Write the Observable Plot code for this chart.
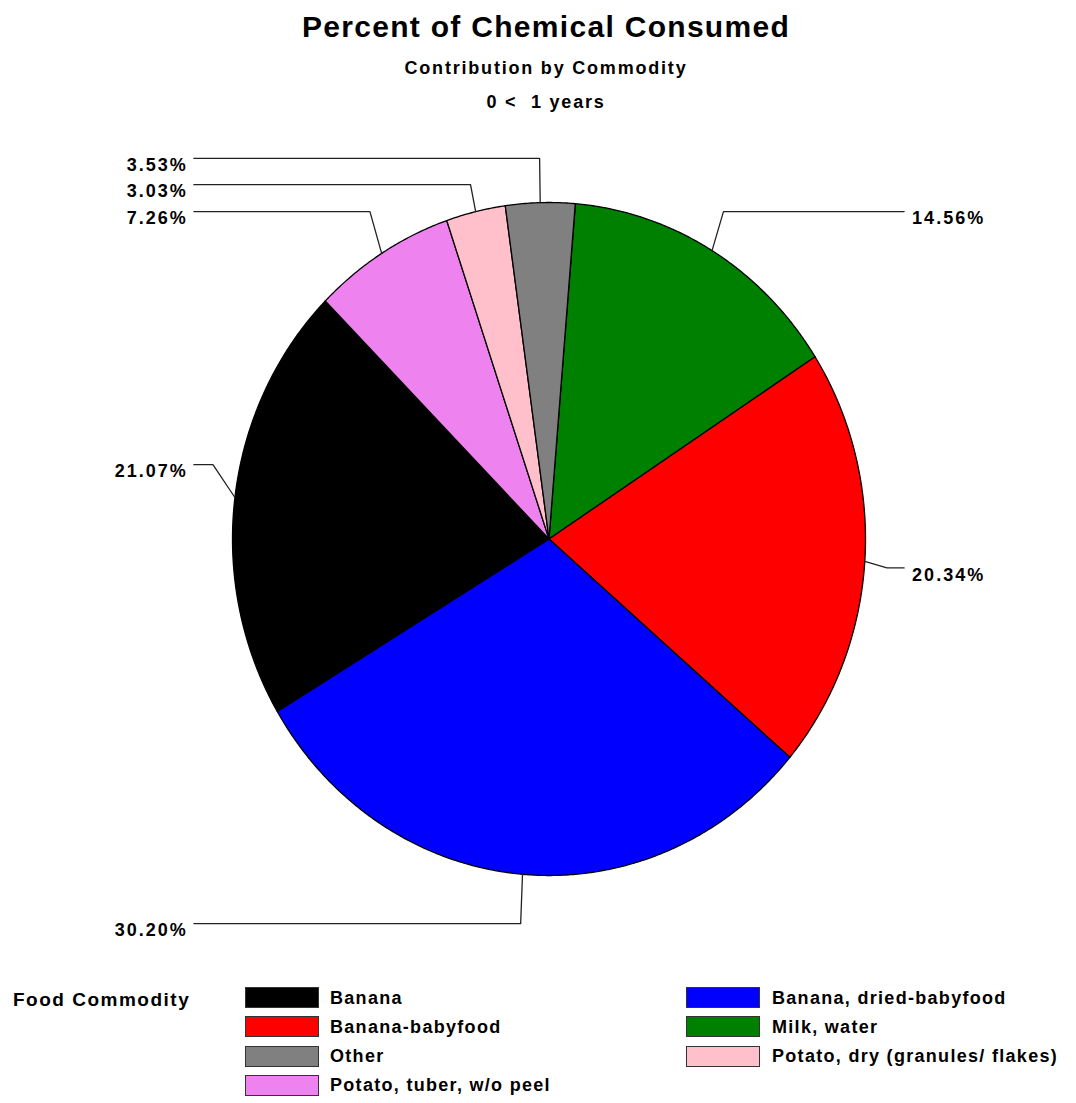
<!DOCTYPE html>
<html>
<head>
<meta charset="utf-8">
<script src="https://cdn.jsdelivr.net/npm/d3@7"></script>
<script src="https://cdn.jsdelivr.net/npm/@observablehq/plot@0.6"></script>
<style>
  body { margin: 0; background: #fff; }
  #page { position: relative; width: 1076px; height: 1103px; overflow: hidden;
          font-family: "Liberation Sans", Arial, sans-serif; font-weight: bold; color: #000; }
  .t { position: absolute; left: 0; width: 1092px; text-align: center; white-space: pre; }
  .lg { position: absolute; white-space: pre; font-size: 18px; letter-spacing: 1.3px; line-height: 22px; }
  .sw { position: absolute; box-sizing: border-box; border: 1px solid #333; }
  #chart { position: absolute; left: 0; top: 130px; }
</style>
</head>
<body>
<div id="page">
  <div class="t" style="top:10px;font-size:30px;letter-spacing:1.3px;line-height:34px">Percent of Chemical Consumed</div>
  <div class="t" style="top:57px;font-size:18px;letter-spacing:1.8px;line-height:22px">Contribution by Commodity</div>
  <div class="t" style="top:91px;font-size:18px;letter-spacing:1.8px;line-height:22px">0 &lt;  1 years</div>
  <div id="chart"></div>
  <div class="lg" style="left:13px;top:989px;letter-spacing:1.5px;font-size:19px">Food Commodity</div>
</div>
<script>
// ---- data ----
const commodities = ["Milk, water", "Banana-babyfood", "Banana, dried-babyfood", "Banana",
                     "Potato, tuber, w/o peel", "Potato, dry (granules/ flakes)", "Other"];
const percents = [14.56, 20.34, 30.20, 21.07, 7.26, 3.03, 3.53];
const colors = ["#008000", "#ff0000", "#0000ff", "#000000", "#ee82ee", "#ffc0cb", "#808080"];
const legendLeft = ["Banana", "Banana-babyfood", "Other", "Potato, tuber, w/o peel"];
const legendRight = ["Banana, dried-babyfood", "Milk, water", "Potato, dry (granules/ flakes)"];

// ---- layout ----
const startAngle = 4.8; // degrees clockwise from 12 o'clock
const labelLayout = {
  "Milk, water": {side: 1, y: 0.973},
  "Banana-babyfood": {side: 1, y: -0.086},
  "Banana, dried-babyfood": {side: -1, y: -1.143},
  "Banana": {side: -1, y: 0.221},
  "Potato, tuber, w/o peel": {side: -1, y: 0.973},
  "Potato, dry (granules/ flakes)": {side: -1, y: 1.053},
  "Other": {side: -1, y: 1.131}
};
const rad = d => d * Math.PI / 180;

let acc = startAngle;
const slices = commodities.map((name, i) => {
  const a0 = acc, a1 = acc + percents[i] * 3.6;
  acc = a1;
  return {name, value: percents[i], a0, a1, mid: (a0 + a1) / 2};
});

const slicePts = [];
for (const s of slices) {
  slicePts.push({name: s.name, x: 0, y: 0});
  const n = Math.max(2, Math.ceil((s.a1 - s.a0) / 0.4));
  for (let k = 0; k <= n; k++) {
    const a = rad(s.a0 + (s.a1 - s.a0) * k / n);
    slicePts.push({name: s.name, x: Math.sin(a), y: Math.cos(a)});
  }
  slicePts.push({name: s.name, x: 0, y: 0});
}

const leaderPts = [];
const labels = [];
for (const s of slices) {
  const L = labelLayout[s.name];
  const m = rad(s.mid);
  leaderPts.push({name: s.name, x: Math.sin(m), y: Math.cos(m)});
  leaderPts.push({name: s.name, x: 1.07 * Math.sin(m), y: L.y});
  leaderPts.push({name: s.name, x: L.side * 1.122, y: L.y});
  labels.push({name: s.name, x: L.side * 1.122, y: L.y, side: L.side, text: s.value.toFixed(2) + "%"});
}

const font = {fontFamily: "'Liberation Sans', Arial, sans-serif", fontWeight: "bold", fontSize: 18};

const plot = Plot.plot({
  width: 1076,
  height: 830,
  margin: 0,
  style: {background: "#fff", letterSpacing: "2px", overflow: "visible"},
  x: {domain: [-1, 1], range: [232, 865], axis: null},
  y: {domain: [-1, 1], range: [745, 72], axis: null},
  color: {domain: commodities, range: colors},
  marks: [
    Plot.line(slicePts, {x: "x", y: "y", z: "name", fill: "name", stroke: "#000", strokeWidth: 1.3, curve: "linear"}),
    Plot.line(leaderPts, {x: "x", y: "y", z: "name", stroke: "#222", strokeWidth: 1.3}),
    Plot.text(labels.filter(d => d.side < 0), {x: "x", y: "y", text: "text", textAnchor: "end", dx: -6, dy: 7, fill: "#000", ...font}),
    Plot.text(labels.filter(d => d.side > 0), {x: "x", y: "y", text: "text", textAnchor: "start", dx: 8, dy: 7, fill: "#000", ...font})
  ]
});
document.getElementById("chart").appendChild(plot);

// ---- legend ----
const page = document.getElementById("page");
const colorOf = name => colors[commodities.indexOf(name)];
function addCol(list, swX, txtX) {
  list.forEach((name, i) => {
    const top = 987 + i * 29.3;
    const sw = document.createElement("div");
    sw.className = "sw";
    sw.style.cssText = `left:${swX}px;top:${top}px;width:74px;height:21px;background:${colorOf(name)}`;
    page.appendChild(sw);
    const tx = document.createElement("div");
    tx.className = "lg";
    tx.style.cssText = `left:${txtX}px;top:${top - 0.5}px`;
    tx.textContent = name;
    page.appendChild(tx);
  });
}
addCol(legendLeft, 245, 330);
addCol(legendRight, 686, 772);
</script>
</body>
</html>
